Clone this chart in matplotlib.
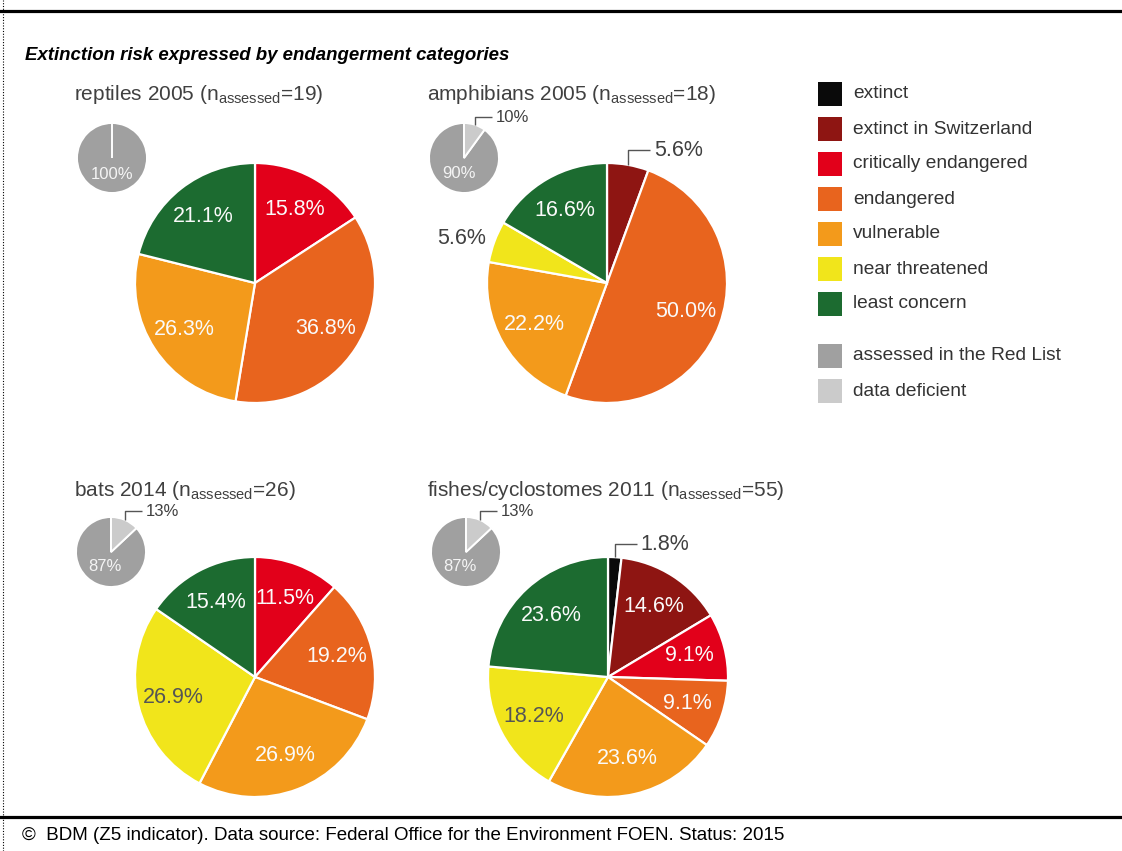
import numpy as np
import matplotlib.pyplot as plt
from matplotlib.patches import Rectangle

plt.rcParams['font.family'] = ['Liberation Sans', 'DejaVu Sans']

W, H = 1122, 851

# endangerment categories (clockwise from the top of each pie)
categories = ['extinct', 'extinct in Switzerland', 'critically endangered',
              'endangered', 'vulnerable', 'near threatened', 'least concern']
cat_colors = ['#0a0a0a', '#8e1512', '#e2001a', '#e8641e', '#f39a1b', '#f1e51b', '#1c6b30']

status = ['assessed in the Red List', 'data deficient']
status_colors = ['#a0a0a0', '#cbcbcb']

groups = ['reptiles 2005', 'amphibians 2005', 'bats 2014', 'fishes/cyclostomes 2011']
n_assessed = [19, 18, 26, 55]

# share of assessed species per category (%)
reptiles = [0, 0, 15.8, 36.8, 26.3, 0, 21.1]
amphibians = [0, 5.6, 0, 50.0, 22.2, 5.6, 16.6]
bats = [0, 0, 11.5, 19.2, 26.9, 26.9, 15.4]
fishes = [1.8, 14.6, 9.1, 9.1, 23.6, 18.2, 23.6]
shares = [reptiles, amphibians, bats, fishes]

# data deficient vs. assessed (% of all species)
deficient = [0, 10, 13, 13]
assessed = [100, 90, 87, 87]

# panel layout in pixels (x from left, y from top)
big_centers = [(255, 283), (607, 283), (255, 677), (608, 677)]
small_centers = [(112, 158), (464, 158), (111, 552), (466, 552)]
title_pos = [(74, 95), (427, 95), (74, 490), (427, 490)]
R_BIG, R_SMALL = 120, 35

TXT = '#404040'

fig = plt.figure(figsize=(W / 100, H / 100), dpi=100)
ax = fig.add_axes([0, 0, 1, 1])


def Y(y):
    return H - y


def polar(cx, cy, r, ang):
    return cx + r * np.cos(np.radians(ang)), cy + r * np.sin(np.radians(ang))


def leader(cx, cy, r, ang, rise, run, label, fs):
    x0, y0 = polar(cx, cy, r, ang)
    ytop = cy + r + rise
    ax.plot([x0, x0, x0 + run], [y0, ytop, ytop], color='#555555', lw=1.0,
            solid_capstyle='butt', zorder=5)
    ax.text(x0 + run + 4, ytop, label, fontsize=fs, color=TXT,
            ha='left', va='center', zorder=5)


for i in range(4):
    # main pie
    cx, cy = big_centers[i]
    vals = [v for v in shares[i] if v > 0]
    cols = [c for v, c in zip(shares[i], cat_colors) if v > 0]
    wedges, _ = ax.pie(vals, colors=cols, startangle=90, counterclock=False,
                       center=(cx, Y(cy)), radius=R_BIG, frame=True,
                       wedgeprops=dict(edgecolor='white', linewidth=1.6))
    for w, v, c in zip(wedges, vals, cols):
        ang = (w.theta1 + w.theta2) / 2
        lab = f'{v:.1f}%'
        if v >= 8:
            tc = '#555555' if c == '#f1e51b' else '#fafafa'
            ax.text(*polar(cx, Y(cy), 0.7 * R_BIG, ang), lab, fontsize=15.5,
                    color=tc, ha='center', va='center', zorder=5)
        elif abs(ang - 90) < 30:
            leader(cx, Y(cy), R_BIG, ang, 13, 22, lab, 15.5)
        else:
            ha = 'right' if np.cos(np.radians(ang)) < 0 else 'left'
            ax.text(*polar(cx, Y(cy), 1.07 * R_BIG, ang), lab, fontsize=15.5,
                    color=TXT, ha=ha, va='center', zorder=5)

    # small pie: data deficient vs. assessed
    sx, sy = small_centers[i]
    svals = [deficient[i], assessed[i]]
    sw, _ = ax.pie(svals, colors=status_colors[::-1], startangle=90, counterclock=False,
                   center=(sx, Y(sy)), radius=R_SMALL, frame=True,
                   wedgeprops=dict(edgecolor='white', linewidth=1.4))
    sw[0].set_zorder(sw[1].get_zorder() + 0.1)
    ang = (sw[1].theta1 + sw[1].theta2) / 2
    ax.text(*polar(sx, Y(sy), 0.46 * R_SMALL, ang), f'{assessed[i]}%', fontsize=12,
            color='#f4f4f4', ha='center', va='center', zorder=5)
    if deficient[i] > 0:
        ang = (sw[0].theta1 + sw[0].theta2) / 2
        leader(sx, Y(sy), R_SMALL, ang, 6, 17, f'{deficient[i]}%', 12)

    # panel title
    tx, ty = title_pos[i]
    ax.text(tx, Y(ty), f'{groups[i]} (n$_\\mathregular{{assessed}}$={n_assessed[i]})',
            fontsize=15, color=TXT, ha='left', va='center')

# legend
rows = [94, 129, 164, 199, 234, 269, 304, 356, 391]
labels = categories + status
colors = cat_colors + status_colors
for y, lab, c in zip(rows, labels, colors):
    ax.add_patch(Rectangle((818, Y(y) - 12), 24, 24, facecolor=c, edgecolor='none'))
    ax.text(853, Y(y), lab, fontsize=13.8, color='#333333', ha='left', va='center')

# heading, frame and source note
ax.text(25, Y(55), 'Extinction risk expressed by endangerment categories',
        fontsize=13.4, fontweight='bold', fontstyle='italic', color='black',
        ha='left', va='center')
ax.plot([0, W], [Y(11), Y(11)], color='black', lw=2.3)
ax.plot([0, W], [Y(817), Y(817)], color='black', lw=2.3)
ax.plot([3, 3], [0, H], color='black', lw=0.8, ls=(0, (1, 1.5)))
ax.text(22, Y(836), '\u00a9  BDM (Z5 indicator). Data source: Federal Office for the Environment FOEN. Status: 2015',
        fontsize=13.5, color='black', ha='left', va='center')

ax.set_xlim(0, W)
ax.set_ylim(0, H)
ax.set_aspect('auto')
ax.axis('off')

fig.savefig('out.png', dpi=100)
